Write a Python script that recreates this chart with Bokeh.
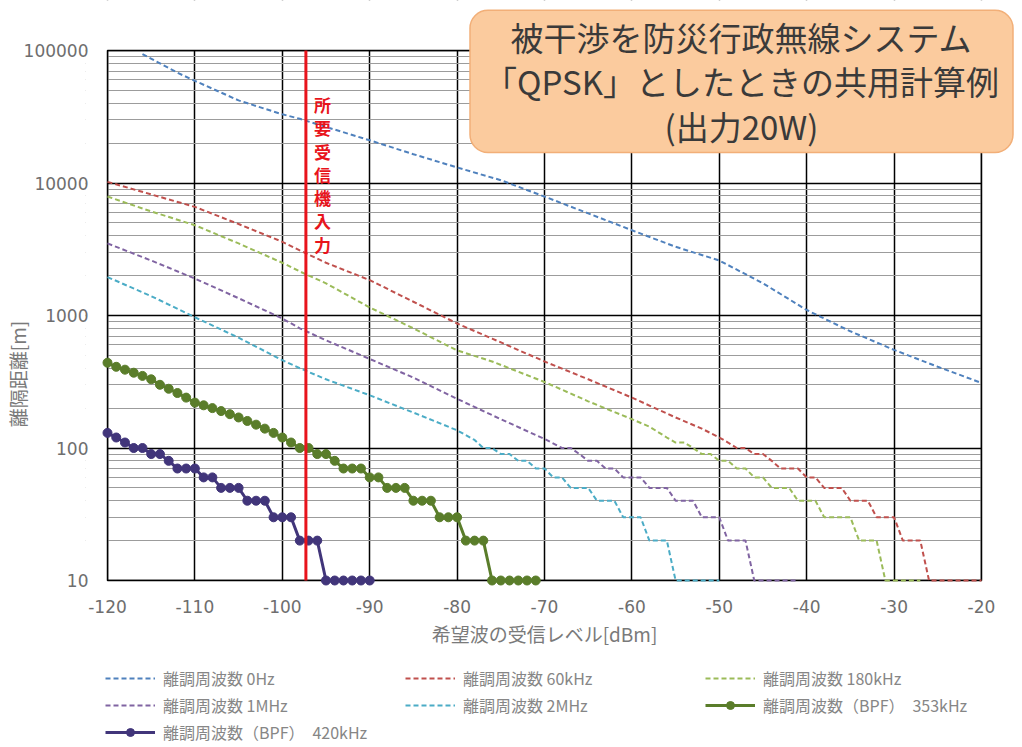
from bokeh.plotting import figure
from bokeh.models import (FixedTicker, Legend, LegendItem, Label, NumeralTickFormatter, Range1d)
from bokeh.embed import file_html
from bokeh.resources import INLINE

JP = "Noto Sans CJK JP"

# ---------------- data ----------------
x_ticks = [-120, -110, -100, -90, -80, -70, -60, -50, -40, -30, -20]
y_ticks = [10, 100, 1000, 10000, 100000]
y_minor = [20, 30, 40, 50, 60, 70, 80, 90,
           200, 300, 400, 500, 600, 700, 800, 900,
           2000, 3000, 4000, 5000, 6000, 7000, 8000, 9000,
           20000, 30000, 40000, 50000, 60000, 70000, 80000, 90000]

required_input = -97.3

x_0hz = [-116, -114, -112, -110, -105, -100, -98, -95, -90, -85, -80, -75, -70, -65, -60, -55, -50, -45, -40, -35, -30, -25, -20]
y_0hz = [94000, 80000, 68000, 59000, 42000, 33000, 30500, 26500, 21000, 16500, 13100, 10500, 7900, 5900, 4400, 3300, 2600, 1750, 1100, 760, 550, 410, 310]

x_60k = [-120, -115, -110, -105, -100, -98, -95, -90, -85, -80, -76, -70, -65, -60, -55, -52, -50, -49, -48, -47, -46, -45, -44, -43, -42, -41, -40, -39, -38, -37, -36, -35, -34, -33, -32, -31, -30, -29, -28, -27, -26, -25, -24, -23, -22, -21, -20]
y_60k = [10200, 8200, 6600, 4900, 3600, 3100, 2500, 1850, 1270, 870, 670, 450, 330, 240, 170, 140, 120, 110, 100, 100, 90, 90, 80, 70, 70, 70, 60, 60, 50, 50, 50, 40, 40, 40, 30, 30, 30, 20, 20, 20, 10, 10, 10, 10, 10, 10, 10]

x_180k = [-120, -115, -110, -105, -100, -98, -95, -90, -85, -80, -76, -70, -65, -60, -58, -56, -55, -54, -53, -52, -51, -50, -49, -48, -47, -46, -45, -44, -43, -42, -41, -40, -39, -38, -37, -36, -35, -34, -33, -32, -31, -30, -29, -28, -27]
y_180k = [7900, 6100, 4800, 3500, 2500, 2150, 1750, 1150, 800, 545, 450, 315, 225, 165, 145, 120, 110, 110, 100, 90, 90, 80, 80, 70, 70, 60, 60, 50, 50, 50, 40, 40, 40, 30, 30, 30, 30, 20, 20, 20, 10, 10, 10, 10, 10]

x_1m = [-120, -115, -110, -105, -100, -98, -95, -90, -85, -80, -75, -70, -68, -67, -66, -65, -64, -63, -62, -61, -60, -59, -58, -57, -56, -55, -54, -53, -52, -51, -50, -49, -48, -47, -46, -45, -44, -43, -42, -41]
y_1m = [3500, 2600, 1900, 1350, 950, 800, 650, 470, 340, 235, 165, 117, 100, 100, 90, 80, 80, 70, 70, 60, 60, 60, 50, 50, 50, 40, 40, 40, 30, 30, 30, 20, 20, 20, 10, 10, 10, 10, 10, 10]

x_2m = [-120, -115, -110, -105, -100, -98, -95, -90, -85, -80, -78, -77, -76, -75, -74, -73, -72, -71, -70, -69, -68, -67, -66, -65, -64, -63, -62, -61, -60, -59, -58, -57, -56, -55, -54, -53, -52, -51, -50]
y_2m = [1950, 1400, 970, 680, 460, 400, 330, 250, 185, 136, 115, 100, 100, 90, 90, 80, 80, 70, 70, 60, 60, 50, 50, 50, 40, 40, 40, 30, 30, 30, 20, 20, 20, 10, 10, 10, 10, 10, 10]

x_bpf353 = list(range(-120, -70))
y_bpf353 = [440, 410, 390, 370, 350, 330, 300, 280, 260, 240,
            220, 210, 200, 190, 180, 170, 160, 150, 140, 130,
            120, 110, 100, 100, 90, 90, 80, 70, 70, 70,
            60, 60, 50, 50, 50, 40, 40, 40, 30, 30,
            30, 20, 20, 20, 10, 10, 10, 10, 10, 10]

x_bpf420 = list(range(-120, -89))
y_bpf420 = [130, 120, 110, 100, 100, 90, 90, 80, 70, 70,
            70, 60, 60, 50, 50, 50, 40, 40, 40, 30,
            30, 30, 20, 20, 20, 10, 10, 10, 10, 10, 10]

labels = ["離調周波数 0Hz", "離調周波数 60kHz", "離調周波数 180kHz",
          "離調周波数 1MHz", "離調周波数 2MHz", "離調周波数（BPF）　353kHz",
          "離調周波数（BPF）　420kHz"]

title_text = "被干渉を防災行政無線システム\n「QPSK」としたときの共用計算例\n(出力20W)"
marker_text = "所\n要\n受\n信\n機\n入\n力"
x_label = "希望波の受信レベル[dBm]"
y_label = "離隔距離[m]"

# ---------------- geometry ----------------
X0, X1 = x_ticks[0], x_ticks[-1]
Y0, Y1 = y_ticks[0], y_ticks[-1]
chart_w, chart_h = 874, 530                      # visible chart box in px
left_border = 85
extra_left, extra_right = 22, 41
extra_top, extra_bottom = 50, 167
decades = 4
dx = (X1 - X0) / chart_w
x_start = X0 - extra_left * dx
x_end = X1 + extra_right * dx
y_end = 10 ** (5 + extra_top * decades / chart_h)
y_start = 10 ** (1 - extra_bottom * decades / chart_h)

p = figure(frame_width=extra_left + chart_w + extra_right,
           frame_height=extra_top + chart_h + extra_bottom,
           x_range=Range1d(x_start, x_end), y_range=Range1d(y_start, y_end), y_axis_type="log",
           output_backend="svg", toolbar_location=None,
           min_border_left=left_border, min_border_right=0, min_border_top=0, min_border_bottom=0)
p.background_fill_color = "white"
p.border_fill_color = "white"
p.outline_line_color = None

xt = FixedTicker(ticks=x_ticks)
yt = FixedTicker(ticks=y_ticks, minor_ticks=y_minor)
p.xaxis.ticker = xt
p.yaxis.ticker = yt
p.xgrid.ticker = xt
p.ygrid.ticker = yt
p.xaxis.bounds = (X0, X1)
p.yaxis.bounds = (Y0, Y1)
p.xaxis.visible = False
p.yaxis.formatter = NumeralTickFormatter(format="0")

p.xgrid.grid_line_color = "black"
p.xgrid.grid_line_width = 1.5
p.ygrid.grid_line_color = "black"
p.ygrid.grid_line_width = 1.5
p.ygrid.minor_grid_line_color = "#9c9c9c"
p.ygrid.minor_grid_line_width = 1

ax = p.yaxis[0]
ax.axis_line_color = None
ax.major_tick_line_color = None
ax.minor_tick_line_color = None
ax.major_tick_out = 0
ax.minor_tick_out = 0
ax.major_label_text_font = "DejaVu Sans"
ax.major_label_text_font_size = "17px"
ax.major_label_text_color = "#6e6e6e"
ax.major_label_standoff = -3
ax.axis_label = y_label
ax.axis_label_text_font = JP
ax.axis_label_text_font_size = "19px"
ax.axis_label_text_font_style = "normal"
ax.axis_label_text_color = "#7a7a7a"
ax.axis_label_standoff = -10

# white masks over the spare room (full-width top/bottom strips), then the chart border
p.quad(left=x_start, right=x_end, bottom=Y1, top=y_end, fill_color="white", line_color=None)
p.quad(left=x_start, right=x_end, bottom=y_start, top=Y0, fill_color="white", line_color=None)
p.quad(left=x_start, right=X0, bottom=y_start, top=y_end, fill_color="white", line_color=None)
p.quad(left=X1, right=x_end, bottom=y_start, top=y_end, fill_color="white", line_color=None)
p.quad(left=X0, right=X1, bottom=Y0, top=Y1, fill_alpha=0, line_color="black", line_width=1.5)

dash = "5 3"
r0 = p.line(x_0hz, y_0hz, line_color="#4F81BD", line_width=2, line_dash=dash)
r1 = p.line(x_60k, y_60k, line_color="#C0504D", line_width=2, line_dash=dash)
r2 = p.line(x_180k, y_180k, line_color="#9BBB59", line_width=2, line_dash=dash)
r3 = p.line(x_1m, y_1m, line_color="#8064A2", line_width=2, line_dash=dash)
r4 = p.line(x_2m, y_2m, line_color="#4BACC6", line_width=2, line_dash=dash)
c5 = "#5A7D2A"
r5l = p.line(x_bpf353, y_bpf353, line_color=c5, line_width=3)
r5m = p.scatter(x_bpf353, y_bpf353, marker="circle", size=9, fill_color=c5, line_color=c5)
c6 = "#41357A"
r6l = p.line(x_bpf420, y_bpf420, line_color=c6, line_width=3)
r6m = p.scatter(x_bpf420, y_bpf420, marker="circle", size=9, fill_color=c6, line_color=c6)

p.segment(x0=[required_input], y0=[Y0], x1=[required_input], y1=[Y1],
          line_color="#E8141C", line_width=3)

# x tick labels and x axis title, anchored to the x scale below the chart bottom
for t in x_ticks:
    p.add_layout(Label(x=t, y=Y0, y_offset=-26, text=str(t), text_align="center",
                       text_baseline="middle", text_font="DejaVu Sans", text_font_size="17px",
                       text_color="#6e6e6e"))
p.add_layout(Label(x=(X0 + X1) / 2, y=Y0, y_offset=-53, text=x_label, text_align="center",
                   text_baseline="middle", text_font=JP, text_font_size="19px",
                   text_color="#7a7a7a"))

p.add_layout(Label(x=-95.4, y=11600, text=marker_text, text_align="center", text_baseline="middle",
                   text_font=JP, text_font_size="17px", text_font_style="bold",
                   text_color="#E8141C", text_line_height=0.93))

p.add_layout(Label(x=-47.46, y=58500, text=title_text, text_align="center", text_baseline="middle",
                   text_font=JP, text_font_size="33px", text_color="#3a3a3a", text_line_height=0.92,
                   background_fill_color="#FBCB9E", border_line_color="#F2AF78", border_line_width=1.5,
                   padding=dict(left=14, right=14, top=3, bottom=3), border_radius=18))

items = [LegendItem(label=labels[0], renderers=[r0]),
         LegendItem(label=labels[1], renderers=[r1]),
         LegendItem(label=labels[2], renderers=[r2]),
         LegendItem(label=labels[3], renderers=[r3]),
         LegendItem(label=labels[4], renderers=[r4]),
         LegendItem(label=labels[5], renderers=[r5l, r5m]),
         LegendItem(label=labels[6], renderers=[r6l, r6m])]
legend = Legend(items=items, orientation="horizontal", ncols=3, location=(20, 3),
                glyph_width=50, glyph_height=20, label_height=20, label_standoff=8,
                spacing=3, padding=0, margin=0, label_width=239,
                label_text_font=JP, label_text_font_size="16px", label_text_color="#868686",
                border_line_color=None, background_fill_alpha=0)
p.add_layout(legend)

open("out.html", "w").write(file_html(p, INLINE))
